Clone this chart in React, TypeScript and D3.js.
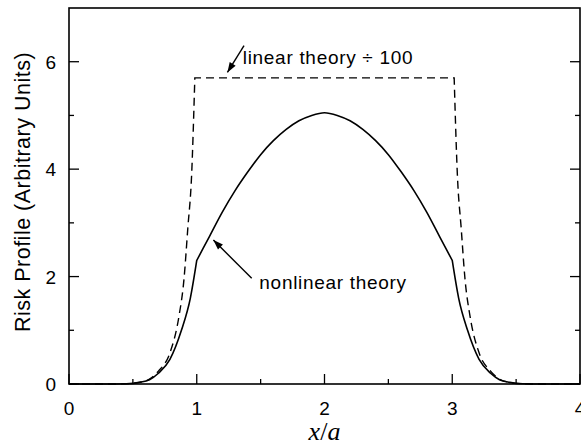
import React, { useEffect, useRef } from "react";
import * as d3 from "d3";

// Nonlinear theory (solid curve)
const nonlinearX = [0, 0.3, 0.45, 0.55, 0.63, 0.7, 0.79, 0.88, 0.95, 1.0, 1.1, 1.2, 1.3, 1.4, 1.5, 1.6, 1.7, 1.8, 1.9, 2.0,
  2.1, 2.2, 2.3, 2.4, 2.5, 2.6, 2.7, 2.8, 2.9, 3.0, 3.05, 3.12, 3.21, 3.3, 3.37, 3.45, 3.55, 3.7, 4.0];
const nonlinearY = [0, 0, 0.005, 0.03, 0.08, 0.2, 0.46, 1.0, 1.6, 2.3, 2.75, 3.2, 3.6, 3.95, 4.27, 4.53, 4.74, 4.9, 5.0, 5.05,
  5.0, 4.9, 4.74, 4.53, 4.27, 3.95, 3.6, 3.2, 2.75, 2.3, 1.6, 1.0, 0.46, 0.2, 0.08, 0.03, 0.005, 0, 0];
// x positions where the solid curve has a corner
const nonlinearCorners = [1.0, 3.0];

// Linear theory divided by 100 (dashed curve)
const linearX = [0, 0.3, 0.45, 0.55, 0.63, 0.7, 0.79, 0.86, 0.9, 0.93, 0.96, 0.985, 2.0,
  3.015, 3.04, 3.07, 3.1, 3.14, 3.21, 3.3, 3.37, 3.45, 3.55, 3.7, 4.0];
const linearY = [0, 0, 0.005, 0.03, 0.09, 0.24, 0.58, 1.25, 1.95, 2.9, 3.9, 5.7, 5.7,
  5.7, 3.9, 2.9, 1.95, 1.25, 0.58, 0.24, 0.09, 0.03, 0.005, 0, 0];
const linearCorners = [0.985, 3.015];

const xMajorTicks = [0, 1, 2, 3, 4];
const xMinorTicks = [0.5, 1.5, 2.5, 3.5];
const yMajorTicks = [0, 2, 4, 6];
const yMinorTicks = [1, 3, 5];

const W = 581;
const H = 448;
const M = { left: 69, right: 1, top: 8, bottom: 64 };
const FONT = "'Liberation Sans', Arial, sans-serif";

// split a series into pieces that meet at the given corner x values
function pieces(xs: number[], ys: number[], corners: number[]) {
  const out: [number, number][][] = [[]];
  xs.forEach((v, i) => {
    out[out.length - 1].push([v, ys[i]]);
    if (corners.includes(v) && i < xs.length - 1) out.push([[v, ys[i]]]);
  });
  return out;
}

export default function App() {
  const ref = useRef<SVGSVGElement>(null);

  useEffect(() => {
    const svg = d3.select(ref.current);
    svg.selectAll("*").remove();

    const x = d3.scaleLinear().domain([0, 4]).range([M.left, W - M.right]);
    const y = d3.scaleLinear().domain([0, 7]).range([H - M.bottom, M.top]);
    const x0 = x(0), x1 = x(4), y0 = y(0), y1 = y(7);

    const g = svg.append("g");

    const line = d3.line<[number, number]>()
      .x(d => x(d[0]))
      .y(d => y(d[1]))
      .curve(d3.curveMonotoneX);

    const joinPieces = (ps: [number, number][][]) =>
      ps.map((p, i) => {
        const d = line(p) || "";
        return i === 0 ? d : "L" + d.slice(1);
      }).join("");

    g.append("path")
      .attr("d", joinPieces(pieces(linearX, linearY, linearCorners)))
      .attr("fill", "none")
      .attr("stroke", "#000")
      .attr("stroke-width", 1.4)
      .attr("stroke-dasharray", "8,5");

    g.append("path")
      .attr("d", joinPieces(pieces(nonlinearX, nonlinearY, nonlinearCorners)))
      .attr("fill", "none")
      .attr("stroke", "#000")
      .attr("stroke-width", 1.6)
      .attr("stroke-linejoin", "miter");

    // frame
    g.append("rect")
      .attr("x", x0).attr("y", y1)
      .attr("width", x1 - x0).attr("height", y0 - y1)
      .attr("fill", "none").attr("stroke", "#000").attr("stroke-width", 1.6);

    // x ticks (inward)
    xMajorTicks.forEach(t => {
      g.append("line").attr("x1", x(t)).attr("x2", x(t)).attr("y1", y0).attr("y2", y0 - 10)
        .attr("stroke", "#000").attr("stroke-width", 1.3);
    });
    xMinorTicks.forEach(t => {
      g.append("line").attr("x1", x(t)).attr("x2", x(t)).attr("y1", y0).attr("y2", y0 - 5)
        .attr("stroke", "#000").attr("stroke-width", 1.3);
    });
    // y ticks on left and right (inward)
    yMajorTicks.forEach(t => {
      g.append("line").attr("x1", x0).attr("x2", x0 + 10).attr("y1", y(t)).attr("y2", y(t))
        .attr("stroke", "#000").attr("stroke-width", 1.3);
      g.append("line").attr("x1", x1).attr("x2", x1 - 10).attr("y1", y(t)).attr("y2", y(t))
        .attr("stroke", "#000").attr("stroke-width", 1.3);
    });
    yMinorTicks.forEach(t => {
      g.append("line").attr("x1", x0).attr("x2", x0 + 5).attr("y1", y(t)).attr("y2", y(t))
        .attr("stroke", "#000").attr("stroke-width", 1.3);
      g.append("line").attr("x1", x1).attr("x2", x1 - 5).attr("y1", y(t)).attr("y2", y(t))
        .attr("stroke", "#000").attr("stroke-width", 1.3);
    });

    // tick labels
    xMajorTicks.forEach(t => {
      g.append("text").attr("x", x(t)).attr("y", y0 + 31)
        .attr("text-anchor", "middle").attr("font-family", FONT).attr("font-size", 19)
        .text(String(t));
    });
    yMajorTicks.forEach(t => {
      g.append("text").attr("x", x0 - 13).attr("y", y(t) + 7)
        .attr("text-anchor", "end").attr("font-family", FONT).attr("font-size", 19)
        .text(String(t));
    });

    // axis titles
    g.append("text")
      .attr("transform", `translate(30,${(y0 + y1) / 2 - 4}) rotate(-90)`)
      .attr("text-anchor", "middle").attr("font-family", FONT).attr("font-size", 21.5)
      .attr("letter-spacing", 0.5)
      .text("Risk Profile (Arbitrary Units)");

    const xl = g.append("text")
      .attr("x", x(2)).attr("y", y0 + 56)
      .attr("text-anchor", "middle").attr("font-family", "'Liberation Serif', 'DejaVu Serif', serif")
      .attr("font-size", 26);
    xl.append("tspan").attr("font-style", "italic").text("x");
    xl.append("tspan").text("/");
    xl.append("tspan").attr("font-style", "italic").text("a");

    // annotations with arrows
    const arrow = (xa: number, ya: number, xb: number, yb: number) => {
      g.append("line").attr("x1", xa).attr("y1", ya).attr("x2", xb).attr("y2", yb)
        .attr("stroke", "#000").attr("stroke-width", 1.4);
      const ang = Math.atan2(yb - ya, xb - xa);
      const len = 10, wid = 3.5;
      const bx = xb - len * Math.cos(ang), by = yb - len * Math.sin(ang);
      const px = -Math.sin(ang) * wid, py = Math.cos(ang) * wid;
      g.append("path")
        .attr("d", `M${xb},${yb}L${bx + px},${by + py}L${bx - px},${by - py}Z`)
        .attr("fill", "#000");
    };

    arrow(x(1.37), y(6.3), x(1.24), y(5.8));
    g.append("text").attr("x", x(1.36)).attr("y", y(6.0) + 2)
      .attr("font-family", FONT).attr("font-size", 19).attr("letter-spacing", 0.7)
      .text("linear theory \u00f7 100");

    arrow(x(1.43), y(1.97), x(1.13), y(2.68));
    g.append("text").attr("x", x(1.49)).attr("y", y(1.88) + 6)
      .attr("font-family", FONT).attr("font-size", 19).attr("letter-spacing", 0.7)
      .text("nonlinear theory");
  }, []);

  return (
    <svg
      ref={ref}
      width={W}
      height={H}
      style={{ position: "absolute", left: 0, top: 0, background: "#fff" }}
    />
  );
}
